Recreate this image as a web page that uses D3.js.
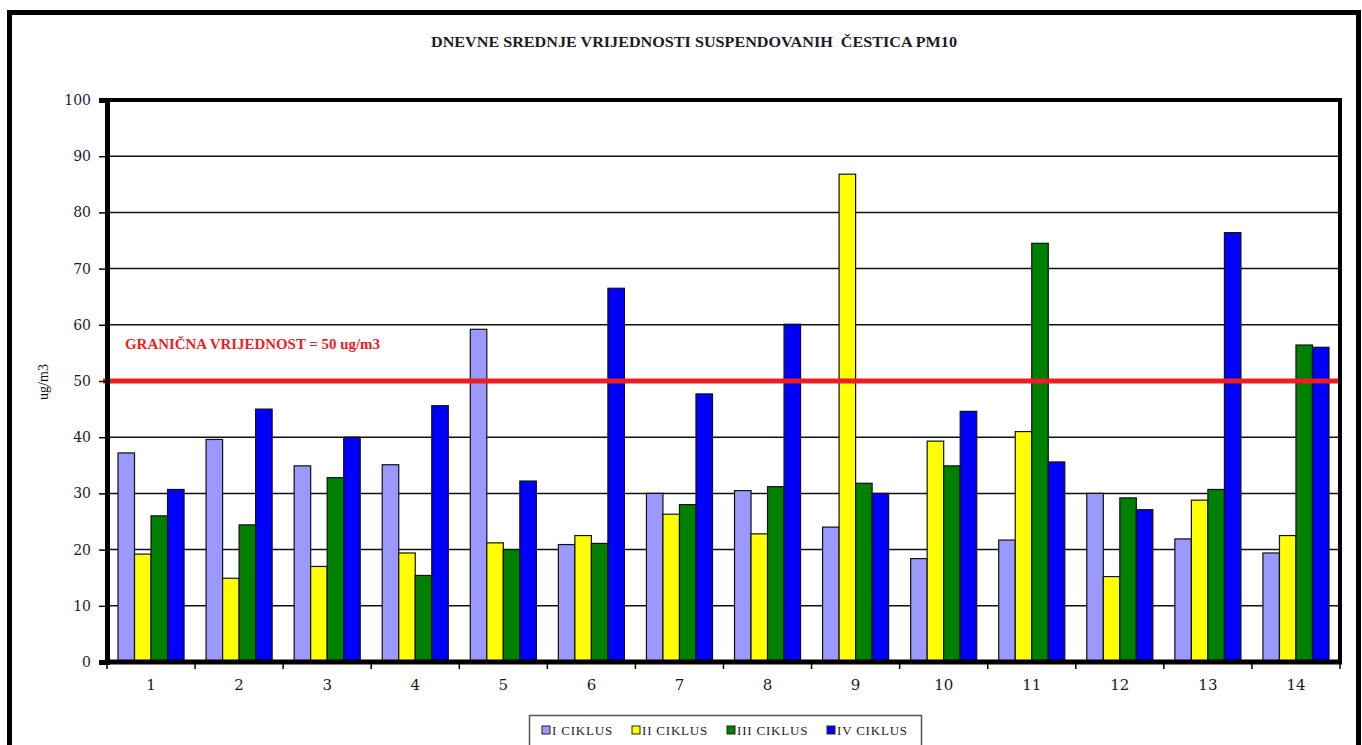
<!DOCTYPE html>
<html>
<head>
<meta charset="utf-8">
<script src="https://cdn.jsdelivr.net/npm/d3@7"></script>
<style>
  html, body { margin: 0; padding: 0; background: #fff; }
  svg { display: block; }
  text { font-family: "Liberation Serif", "DejaVu Serif", serif; }
</style>
</head>
<body>
<svg id="chart" width="1362" height="745"></svg>
<script>
// ---- data ----
const categories = ["1","2","3","4","5","6","7","8","9","10","11","12","13","14"];
const seriesNames = ["I CIKLUS", "II CIKLUS", "III CIKLUS", "IV CIKLUS"];
const ciklusI   = [37.2, 39.6, 34.9, 35.1, 59.2, 20.9, 30.0, 30.5, 24.0, 18.4, 21.7, 30.0, 21.9, 19.4];
const ciklusII  = [19.2, 14.9, 17.0, 19.4, 21.2, 22.5, 26.3, 22.8, 86.8, 39.3, 41.0, 15.2, 28.8, 22.5];
const ciklusIII = [26.0, 24.4, 32.8, 15.4, 20.0, 21.1, 28.0, 31.2, 31.8, 34.9, 74.5, 29.2, 30.7, 56.4];
const ciklusIV  = [30.7, 45.0, 40.0, 45.6, 32.2, 66.5, 47.7, 60.1, 30.0, 44.6, 35.6, 27.1, 76.4, 56.0];
const yTicks = [0,10,20,30,40,50,60,70,80,90,100];
const limitValue = 50;
const titleText = "DNEVNE SREDNJE VRIJEDNOSTI SUSPENDOVANIH  ČESTICA PM10";
const limitLabel = "GRANIČNA VRIJEDNOST = 50 ug/m3";
const yAxisTitle = "ug/m3";
const colors = ["#9999FF", "#FFFF00", "#008000", "#0000FF"];

(function () {
const allSeries = [ciklusI, ciklusII, ciklusIII, ciklusIV];
const rows = categories.map((c, i) => ({cat: c, values: allSeries.map((s, k) => ({key: k, value: s[i]}))}));

const svg = d3.select("#chart");
const pLeft = 107, pRight = 1340, pTop = 100, pBottom = 662;

// outer frame
svg.append("rect").attr("x", 9.5).attr("y", 12.5).attr("width", 1349).attr("height", 760)
  .attr("fill", "#fff").attr("stroke", "#000").attr("stroke-width", 5);

// title
svg.append("text").attr("x", 694).attr("y", 47).attr("text-anchor", "middle")
  .attr("font-size", 14.5).attr("font-weight", "bold").attr("fill", "#1a1a2a")
  .attr("xml:space", "preserve").style("white-space", "pre")
  .attr("textLength", 526).attr("lengthAdjust", "spacingAndGlyphs")
  .text(titleText);

const x = d3.scaleBand().domain(categories).range([pLeft, pRight]).paddingInner(0.25).paddingOuter(0.125);
const xStep = d3.scaleBand().domain(categories).range([pLeft, pRight]).padding(0);
const xs = d3.scaleBand().domain(d3.range(seriesNames.length)).range([0, x.bandwidth()]).padding(0);
const y = d3.scaleLinear().domain([0, 100]).range([pBottom, pTop]);

// gridlines
svg.append("g").selectAll("line").data(yTicks.filter(t => t > 0 && t < 100)).join("line")
  .attr("x1", pLeft).attr("x2", pRight).attr("y1", d => y(d)).attr("y2", d => y(d))
  .attr("stroke", "#111").attr("stroke-width", 1.5);

// bars
const g = svg.append("g").selectAll("g").data(rows).join("g")
  .attr("transform", d => `translate(${x(d.cat)},0)`);
g.selectAll("rect").data(d => d.values).join("rect")
  .attr("x", d => xs(d.key)).attr("width", xs.bandwidth())
  .attr("y", d => y(d.value)).attr("height", d => y(0) - y(d.value))
  .attr("fill", d => colors[d.key]).attr("stroke", "#111").attr("stroke-width", 1.2);

// limit line
svg.append("line").attr("x1", pLeft - 4).attr("x2", pRight).attr("y1", y(limitValue)).attr("y2", y(limitValue))
  .attr("stroke", "#EE1C25").attr("stroke-width", 5);
svg.append("text").attr("x", 125).attr("y", 349).attr("font-size", 14).attr("font-weight", "bold")
  .attr("fill", "#EE1C25").attr("textLength", 255).attr("lengthAdjust", "spacingAndGlyphs").text(limitLabel);

// plot border (top, right)
svg.append("path").attr("d", `M${pLeft},${pTop}H${pRight}V${pBottom}`).attr("fill", "none")
  .attr("stroke", "#000").attr("stroke-width", 4);

// y axis
const yAxis = svg.append("g").attr("transform", `translate(${pLeft},0)`)
  .call(d3.axisLeft(y).tickValues(yTicks).tickSize(8).tickPadding(8).tickFormat(d3.format("d")));
yAxis.select(".domain").attr("stroke", "#000").attr("stroke-width", 5);
yAxis.selectAll(".tick line").attr("stroke", "#000").attr("stroke-width", 1.5);
yAxis.selectAll(".tick text").attr("font-size", 14).attr("fill", "#1a1a33")
  .style("font-family", "'DejaVu Serif', serif");

// x axis
const xAxis = svg.append("g").attr("transform", `translate(0,${pBottom})`)
  .call(d3.axisBottom(x).tickSize(0).tickPadding(0));
xAxis.select(".domain").remove();
xAxis.selectAll(".tick text").attr("y", 28).attr("dy", 0).attr("font-size", 15).attr("fill", "#1a1a1a")
  .style("font-family", "'DejaVu Serif', serif");
// boundary ticks
svg.append("g").selectAll("line").data(categories.concat(["end"])).join("line")
  .attr("x1", (d, i) => i < categories.length ? xStep(d) : pRight)
  .attr("x2", (d, i) => i < categories.length ? xStep(d) : pRight)
  .attr("y1", pBottom).attr("y2", pBottom + 7).attr("stroke", "#000").attr("stroke-width", 1.5);
svg.append("line").attr("x1", pLeft - 2).attr("x2", pRight + 2).attr("y1", pBottom).attr("y2", pBottom)
  .attr("stroke", "#000").attr("stroke-width", 5);

// y axis title
svg.append("text").attr("transform", `translate(48,382) rotate(-90)`).attr("text-anchor", "middle")
  .attr("font-size", 14).attr("fill", "#111").text(yAxisTitle);

// legend
const lg = svg.append("g");
lg.append("rect").attr("x", 529.5).attr("y", 715.5).attr("width", 392).attr("height", 50)
  .attr("fill", "#fff").attr("stroke", "#555").attr("stroke-width", 1.5);
const legendX = [542, 632, 727, 827];
const item = lg.selectAll("g").data(seriesNames).join("g")
  .attr("transform", (d, i) => `translate(${legendX[i]},726)`);
item.append("rect").attr("width", 8).attr("height", 8).attr("fill", (d, i) => colors[i])
  .attr("stroke", "#222").attr("stroke-width", 1);
item.append("text").attr("x", 10).attr("y", 9).attr("font-size", 13).attr("fill", "#222")
  .attr("letter-spacing", 0.8).text(d => d);
})();
</script>
</body>
</html>
